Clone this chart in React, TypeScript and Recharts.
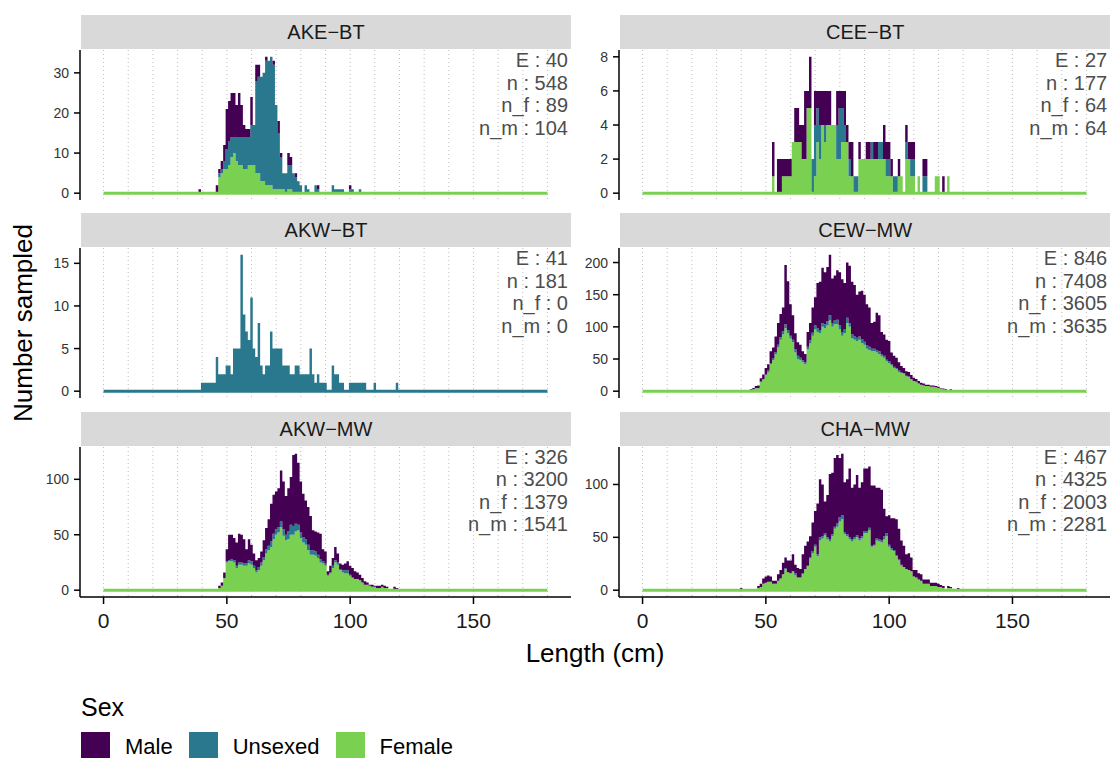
import React, { useMemo } from 'react';
import { ComposedChart, Area, XAxis, YAxis, CartesianGrid, ReferenceLine } from 'recharts';

// Sex categories, stacked bottom-up as Female, Unsexed, Male
const sexLabels = ['Male', 'Unsexed', 'Female'];
const sexColors: Record<string, string> = {
  Male: '#440154',
  Unsexed: '#2A788E',
  Female: '#7AD151',
};

// 1 cm length bins, 0..180
const lengthBins = Array.from({ length: 181 }, (_, i) => i);
const lengthTicks = [0, 50, 100, 150];
const gridLengths = [0, 10, 20, 30, 40, 50, 60, 70, 80, 90, 100, 110, 120, 130, 140, 150, 160, 170, 180];

// ---- AKE-BT (counts from 39 cm) ----
const akeBtStart = 39;
const akeBtFemale = [0, 0, 0, 0, 0, 0, 0, 0, 4, 5, 6, 6, 7, 9, 10, 8, 7, 7, 6, 6, 7, 7, 7, 5, 5, 3, 3, 2, 2, 2, 1, 1, 1, 1, 1, 0, 1, 1];
const akeBtUnsexed = [0, 0, 0, 0, 0, 0, 0, 0, 1, 1, 2, 5, 6, 5, 4, 6, 7, 7, 8, 8, 7, 10, 10, 23, 24, 26, 27, 31, 31, 32, 31, 21, 14, 8, 4, 5, 6, 6, 5, 4, 3, 2, 0, 2, 1, 0, 0, 2, 1, 0, 0, 0, 0, 0, 2, 1, 1, 1, 1, 0, 0, 1, 1, 0, 0, 1];
const akeBtMale = [1, 0, 0, 0, 0, 0, 0, 2, 1, 2, 4, 10, 10, 11, 11, 8, 11, 8, 3, 2, 2, 7, 0, 4, 3, 0, 0, 1, 0, 0, 1, 0, 3, 1, 0, 0, 3, 2, 0, 1, 0, 0, 0, 0, 0, 0, 0, 0, 1, 0, 0, 0, 0, 0, 0, 0, 0, 0, 0, 0, 0, 1];
const akeBtTicks = [0, 10, 20, 30];
const akeBtStats = ['E : 40', 'n : 548', 'n_f : 89', 'n_m : 104'];

// ---- CEE-BT (counts from 53 cm) ----
const ceeBtStart = 53;
const ceeBtFemale = [1, 0, 0, 0, 1, 1, 1, 1, 3, 3, 3, 3, 2, 2, 5, 5, 0, 1, 3, 2, 4, 3, 4, 4, 4, 4, 2, 2, 3, 3, 3, 1, 1, 0, 0, 2, 2, 2, 2, 2, 2, 2, 2, 2, 2, 2, 1, 1, 1, 0, 0, 1, 1, 0, 2, 2, 1, 1, 0, 1, 0, 0, 0, 0, 0, 0, 1, 1, 0, 0, 0, 1];
const ceeBtUnsexed = [0, 0, 0, 0, 0, 0, 0, 0, 0, 0, 0, 0, 0, 0, 0, 0, 2, 3, 2, 2, 0, 1, 0, 0, 0, 0, 2, 3, 2, 1, 0, 1, 0, 1, 1, 0, 0, 0, 0, 0, 1, 0, 0, 1, 1, 0, 1, 1, 0, 1, 1, 0, 0, 0, 1, 0, 1, 1, 0, 0, 0, 1, 1];
const ceeBtMale = [2, 0, 2, 2, 1, 1, 1, 1, 0, 2, 2, 1, 2, 4, 1, 3, 0, 2, 1, 2, 2, 2, 2, 2, 0, 0, 2, 1, 1, 2, 1, 1, 2, 0, 0, 1, 0, 0, 1, 1, 0, 1, 1, 0, 0, 2, 1, 1, 1, 0, 0, 1, 0, 0, 1, 1, 1, 1, 0, 0, 0, 1, 1, 0, 0, 0, 0, 0, 0, 1];
const ceeBtTicks = [0, 2, 4, 6, 8];
const ceeBtStats = ['E : 27', 'n : 177', 'n_f : 64', 'n_m : 64'];

// ---- AKW-BT (counts from 40 cm, unsexed only) ----
const akwBtStart = 40;
const akwBtFemale: number[] = [];
const akwBtUnsexed = [1, 1, 1, 1, 1, 1, 4, 2, 2, 2, 3, 3, 2, 5, 5, 5, 16, 9, 7, 6, 11, 5, 4, 8, 3, 2, 3, 3, 7, 5, 5, 5, 5, 3, 3, 3, 2, 2, 3, 3, 2, 2, 2, 2, 5, 2, 1, 2, 1, 1, 1, 0, 0, 3, 2, 2, 1, 1, 0, 0, 1, 1, 1, 1, 1, 1, 1, 0, 0, 0, 1, 0, 0, 0, 0, 0, 0, 0, 0, 1];
const akwBtMale: number[] = [];
const akwBtTicks = [0, 5, 10, 15];
const akwBtStats = ['E : 41', 'n : 181', 'n_f : 0', 'n_m : 0'];

// ---- CEW-MW (counts from 40 cm) ----
const cewMwStart = 40;
const cewMwFemale = [1, 1, 1, 1, 2, 3, 4, 5, 14, 18, 25, 30, 42, 48, 58, 68, 80, 88, 98, 90, 82, 76, 60, 50, 48, 45, 42, 65, 74, 86, 96, 92, 90, 100, 98, 102, 110, 100, 104, 104, 96, 86, 90, 106, 100, 82, 80, 78, 80, 75, 72, 66, 64, 62, 62, 60, 58, 54, 52, 46, 44, 40, 36, 34, 30, 28, 27, 23, 22, 18, 16, 14, 12, 10, 9, 8, 8, 7, 7, 6, 5, 4, 3, 2, 2, 2];
const cewMwUnsexed = [0, 0, 0, 0, 0, 0, 1, 0, 1, 1, 1, 2, 2, 3, 3, 4, 4, 5, 6, 5, 4, 4, 5, 5, 4, 3, 3, 4, 5, 5, 6, 6, 5, 6, 6, 7, 8, 6, 6, 7, 6, 6, 6, 8, 6, 6, 5, 5, 5, 6, 5, 5, 5, 4, 4, 4, 4, 3, 3, 3, 3, 2, 2, 2, 2, 1, 1, 1, 1, 1, 0, 1];
const cewMwMale = [1, 0, 1, 1, 1, 2, 3, 4, 5, 7, 10, 10, 18, 17, 24, 34, 36, 37, 92, 76, 49, 38, 25, 21, 20, 14, 13, 23, 27, 39, 44, 70, 75, 86, 81, 84, 94, 69, 70, 77, 83, 82, 72, 86, 89, 82, 80, 67, 70, 75, 73, 64, 61, 40, 42, 58, 56, 35, 33, 31, 31, 18, 17, 16, 13, 10, 8, 7, 7, 6, 5, 4, 4, 3, 3, 2, 2, 2, 2, 2, 2, 1, 1, 1, 0, 1];
const cewMwTicks = [0, 50, 100, 150, 200];
const cewMwStats = ['E : 846', 'n : 7408', 'n_f : 3605', 'n_m : 3635'];

// ---- AKW-MW (counts from 47 cm) ----
const akwMwStart = 47;
const akwMwFemale = [2, 4, 11, 25, 26, 26, 25, 20, 23, 23, 22, 22, 24, 23, 20, 16, 18, 22, 27, 33, 36, 39, 46, 50, 52, 57, 49, 45, 46, 50, 50, 53, 54, 47, 43, 41, 36, 32, 32, 31, 29, 25, 24, 22, 13, 15, 20, 25, 23, 18, 16, 15, 15, 13, 11, 10, 10, 9, 7, 5, 5, 4, 3, 3, 2, 2, 3, 2, 2, 0, 0, 1, 1];
const akwMwUnsexed = [0, 0, 0, 1, 1, 2, 2, 2, 2, 2, 2, 2, 3, 3, 2, 2, 3, 3, 3, 4, 4, 5, 5, 5, 5, 5, 6, 5, 7, 9, 8, 7, 5, 5, 5, 5, 5, 4, 4, 4, 3, 3, 2, 2, 1, 1, 2, 2, 2, 1, 2, 3, 3, 1, 1];
const akwMwMale = [2, 3, 5, 11, 23, 22, 20, 21, 26, 25, 22, 13, 19, 15, 11, 9, 8, 10, 15, 19, 24, 34, 35, 34, 35, 46, 43, 35, 39, 43, 64, 63, 56, 46, 39, 35, 34, 31, 18, 18, 20, 23, 11, 11, 3, 6, 7, 12, 8, 5, 5, 6, 8, 8, 8, 7, 6, 5, 4, 3, 2, 1, 2, 1, 2, 2, 2, 2, 1, 0, 0, 2, 1];
const akwMwTicks = [0, 50, 100];
const akwMwStats = ['E : 326', 'n : 3200', 'n_f : 1379', 'n_m : 1541'];

// ---- CHA-MW (counts from 40 cm) ----
const chaMwStart = 40;
const chaMwFemale = [0, 0, 0, 0, 0, 0, 0, 2, 3, 6, 7, 8, 8, 6, 6, 9, 11, 15, 20, 17, 16, 18, 14, 12, 12, 15, 20, 23, 30, 35, 41, 32, 47, 49, 52, 48, 46, 51, 58, 60, 65, 67, 53, 51, 48, 46, 48, 50, 47, 49, 54, 54, 57, 41, 42, 47, 46, 45, 48, 51, 41, 38, 37, 32, 28, 23, 22, 20, 19, 18, 13, 12, 10, 9, 6, 6, 6, 4, 4, 4, 3, 3, 2, 0, 2, 2, 0, 0, 1];
const chaMwUnsexed = [0, 0, 0, 0, 0, 0, 0, 0, 0, 0, 0, 0, 0, 0, 0, 0, 0, 0, 1, 0, 0, 0, 2, 0, 0, 1, 0, 0, 1, 2, 2, 2, 3, 2, 2, 2, 2, 2, 2, 3, 4, 4, 2, 2, 2, 2, 2, 2, 2, 2, 2, 2, 2, 1, 1, 2, 2, 2, 3, 3, 2, 2, 1, 1, 1, 1];
const chaMwMale = [2, 1, 0, 0, 0, 0, 0, 2, 3, 5, 6, 6, 5, 3, 3, 6, 8, 11, 10, 11, 12, 16, 8, 9, 8, 18, 22, 23, 20, 27, 32, 48, 55, 49, 30, 40, 62, 58, 65, 65, 56, 58, 47, 52, 65, 49, 50, 57, 48, 51, 59, 59, 58, 57, 56, 48, 49, 48, 26, 16, 28, 28, 30, 34, 29, 23, 20, 14, 16, 13, 6, 7, 6, 6, 4, 4, 4, 3, 3, 3, 3, 2, 2, 0, 2, 1, 0, 0, 1];
const chaMwTicks = [0, 50, 100];
const chaMwStats = ['E : 467', 'n : 4325', 'n_f : 2003', 'n_m : 2281'];

// panel geometry
const PLOT_W = 491;
const PLOT_H = 150;
const Y_AXIS_W = 60;
const X_AXIS_H = 45;
const STRIP_H = 34;
const COL_X = [80, 619.2];
const ROW_Y = [50, 248.4, 446.8];
const X_DOMAIN: [number, number] = [-9.55, 189.55];
const FONT = '"Liberation Sans", Arial, Helvetica, sans-serif';

interface PanelSpec {
  title: string;
  start: number;
  female: number[];
  unsexed: number[];
  male: number[];
  yTicks: number[];
  stats: string[];
  col: number;
  row: number;
}

const panels: PanelSpec[] = [
  { title: 'AKE−BT', start: akeBtStart, female: akeBtFemale, unsexed: akeBtUnsexed, male: akeBtMale, yTicks: akeBtTicks, stats: akeBtStats, col: 0, row: 0 },
  { title: 'CEE−BT', start: ceeBtStart, female: ceeBtFemale, unsexed: ceeBtUnsexed, male: ceeBtMale, yTicks: ceeBtTicks, stats: ceeBtStats, col: 1, row: 0 },
  { title: 'AKW−BT', start: akwBtStart, female: akwBtFemale, unsexed: akwBtUnsexed, male: akwBtMale, yTicks: akwBtTicks, stats: akwBtStats, col: 0, row: 1 },
  { title: 'CEW−MW', start: cewMwStart, female: cewMwFemale, unsexed: cewMwUnsexed, male: cewMwMale, yTicks: cewMwTicks, stats: cewMwStats, col: 1, row: 1 },
  { title: 'AKW−MW', start: akwMwStart, female: akwMwFemale, unsexed: akwMwUnsexed, male: akwMwMale, yTicks: akwMwTicks, stats: akwMwStats, col: 0, row: 2 },
  { title: 'CHA−MW', start: chaMwStart, female: chaMwFemale, unsexed: chaMwUnsexed, male: chaMwMale, yTicks: chaMwTicks, stats: chaMwStats, col: 1, row: 2 },
];

const Panel: React.FC<{ spec: PanelSpec }> = ({ spec }) => {
  const rows = useMemo(
    () =>
      lengthBins.map((len) => ({
        len,
        Female: spec.female[len - spec.start] ?? 0,
        Unsexed: spec.unsexed[len - spec.start] ?? 0,
        Male: spec.male[len - spec.start] ?? 0,
      })),
    [spec]
  );

  const peak = Math.max(...rows.map((r) => r.Female + r.Unsexed + r.Male));
  const yDomain = [-0.05 * peak, 1.05 * peak];
  const baseColor = spec.female.some((v) => v > 0) ? sexColors.Female : sexColors.Unsexed;
  const isBottom = spec.row === 2;
  const plotLeft = COL_X[spec.col];
  const plotTop = ROW_Y[spec.row];

  return (
    <>
      <div
        style={{
          position: 'absolute',
          left: plotLeft + 1,
          top: plotTop - STRIP_H - 1,
          width: PLOT_W - 1,
          height: STRIP_H,
          background: '#d9d9d9',
          color: '#1a1a1a',
          fontSize: 20,
          lineHeight: `${STRIP_H}px`,
          textAlign: 'center',
        }}
      >
        {spec.title}
      </div>

      <div style={{ position: 'absolute', left: plotLeft - Y_AXIS_W, top: plotTop }}>
        <ComposedChart
          width={Y_AXIS_W + PLOT_W}
          height={PLOT_H + (isBottom ? X_AXIS_H : 0)}
          data={rows}
          margin={{ top: 0, right: 0, bottom: 0, left: 0 }}
        >
          <CartesianGrid
            horizontal={false}
            verticalValues={gridLengths}
            stroke="#bdbdbd"
            strokeDasharray="1 3"
          />
          <XAxis
            type="number"
            dataKey="len"
            domain={X_DOMAIN}
            ticks={lengthTicks}
            interval={0}
            hide={!isBottom}
            height={X_AXIS_H}
            axisLine={{ stroke: '#000', strokeWidth: 1.5 }}
            tickLine={{ stroke: '#000', strokeWidth: 1.5 }}
            tickSize={7}
            tickMargin={9}
            tick={{ fill: '#1a1a1a', fontSize: 21, fontFamily: FONT }}
          />
          <YAxis
            type="number"
            domain={yDomain}
            ticks={spec.yTicks}
            interval={0}
            width={Y_AXIS_W}
            axisLine={{ stroke: '#000', strokeWidth: 1.5 }}
            tickLine={{ stroke: '#000', strokeWidth: 1.5 }}
            tickSize={6}
            tickMargin={5}
            tick={{ fill: '#333', fontSize: 14, fontFamily: FONT }}
          />
          {/* histogram bins drawn as stepped stacked areas */}
          <Area type="step" dataKey="Female" stackId="sex" fill={sexColors.Female} fillOpacity={1} stroke="none" isAnimationActive={false} />
          <Area type="step" dataKey="Unsexed" stackId="sex" fill={sexColors.Unsexed} fillOpacity={1} stroke="none" isAnimationActive={false} />
          <Area type="step" dataKey="Male" stackId="sex" fill={sexColors.Male} fillOpacity={1} stroke="none" isAnimationActive={false} />
          <ReferenceLine
            segment={[
              { x: lengthBins[0], y: 0 },
              { x: lengthBins[lengthBins.length - 1], y: 0 },
            ]}
            stroke={baseColor}
            strokeWidth={3}
          />
        </ComposedChart>
      </div>

      <div
        style={{
          position: 'absolute',
          left: plotLeft,
          top: plotTop - 1,
          width: PLOT_W - 3,
          textAlign: 'right',
          color: '#4d4d4d',
          fontSize: 20,
          lineHeight: '22.5px',
        }}
      >
        {spec.stats.map((s) => (
          <div key={s}>{s}</div>
        ))}
      </div>
    </>
  );
};

export default function App() {
  return (
    <div
      style={{
        position: 'absolute',
        left: 0,
        top: 0,
        width: 1112,
        height: 758,
        overflow: 'hidden',
        background: '#fff',
        fontFamily: FONT,
      }}
    >
      {panels.map((p) => (
        <Panel key={p.title} spec={p} />
      ))}

      {/* axis titles */}
      <div
        style={{
          position: 'absolute',
          left: 23,
          top: 323,
          transform: 'translate(-50%, -50%) rotate(-90deg)',
          fontSize: 26,
          color: '#000',
          whiteSpace: 'nowrap',
        }}
      >
        Number sampled
      </div>
      <div
        style={{
          position: 'absolute',
          left: 595,
          top: 653,
          transform: 'translate(-50%, -50%)',
          fontSize: 26,
          color: '#000',
          whiteSpace: 'nowrap',
        }}
      >
        Length (cm)
      </div>

      {/* legend */}
      <div style={{ position: 'absolute', left: 81, top: 692, fontSize: 25, lineHeight: '30px', color: '#000' }}>Sex</div>
      <div style={{ position: 'absolute', left: 81, top: 732, display: 'flex', alignItems: 'center' }}>
        {sexLabels.map((s) => (
          <div key={s} style={{ display: 'flex', alignItems: 'center', marginRight: 16 }}>
            <div style={{ width: 29, height: 29, background: sexColors[s] }} />
            <span style={{ marginLeft: 15, fontSize: 22, color: '#000' }}>{s}</span>
          </div>
        ))}
      </div>
    </div>
  );
}
